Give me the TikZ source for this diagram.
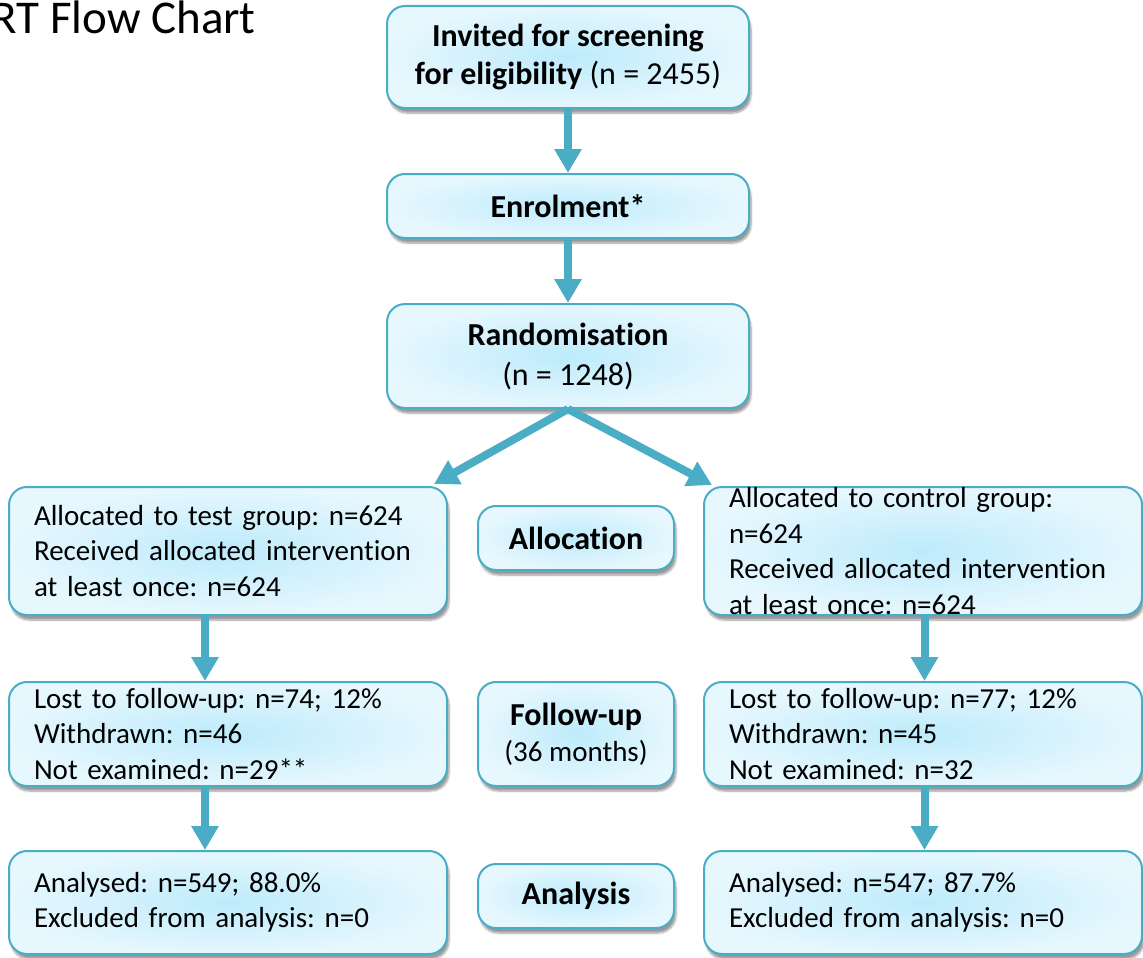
\documentclass[tikz,border=0pt]{standalone}
\usepackage{fontspec}
\setmainfont[Ligatures=CommonOff]{Carlito}
\usetikzlibrary{arrows.meta,shadows.blur}

\definecolor{consortblue}{HTML}{4BACC6}
\definecolor{boxcentre}{HTML}{BDEBFB}
\definecolor{boxedge}{HTML}{E6F7FE}

\tikzset{
  flowbox/.style={draw=consortblue, line width=2pt, rounded corners=18pt,
    inner color=boxcentre, outer color=boxedge,
    blur shadow={shadow xshift=2pt, shadow yshift=-5pt, shadow opacity=40, shadow blur steps=8},
    font=\fontsize{29}{35.5}\selectfont, inner xsep=0pt, inner ysep=0pt, anchor=north west},
  stagebox/.style={flowbox, minimum width=362pt, align=center, font=\fontsize{32}{38}\selectfont},
  groupbox/.style={flowbox, minimum width=438pt, text width=388pt, align=left},
  phasebox/.style={flowbox, minimum width=196pt, align=center, font=\fontsize{32}{36}\selectfont},
  flowarrow/.style={draw=consortblue, line width=8pt, -{Triangle[width=26pt,length=24pt]}}
}

\begin{document}
\frenchspacing
\begin{tikzpicture}[x=1pt,y=-1pt]
\useasboundingbox (0,0) rectangle (1143,958);

\node[anchor=base east, inner sep=0pt, font=\fontsize{47}{56}\selectfont] (title) at (256,34) {RT Flow Chart};

% main column
\node[stagebox, minimum height=102pt] (invited) at (386,5) {\textbf{Invited for screening}\\\textbf{for eligibility} (n = 2455)};
\node[stagebox, minimum height=64pt] (enrol) at (386,173) {\textbf{Enrolment*}};
\node[stagebox, minimum height=104pt] (random) at (386,303) {\textbf{Randomisation}\\[2pt](n = 1248)};

% test group
\node[groupbox, minimum height=128pt] (testalloc) at (8,486) {Allocated to test group: n=624\\Received allocated intervention\\at least once: n=624};
\node[groupbox, minimum height=104pt] (testfollow) at (8,681) {Lost to follow-up: n=74; 12\%\\Withdrawn: n=46\\Not examined: n=29**};
\node[groupbox, minimum height=103pt] (testanalysis) at (8,850) {Analysed: n=549; 88.0\%\\Excluded from analysis: n=0};

% phase labels
\node[phasebox, minimum height=64pt] (allocation) at (477,505) {\textbf{Allocation}};
\node[phasebox, minimum height=104pt] (followup) at (477,681) {\textbf{Follow-up}\\{\fontsize{29}{35}\selectfont(36 months)}};
\node[phasebox, minimum height=64pt] (analysis) at (477,863) {\textbf{Analysis}};

% control group
\node[groupbox, minimum height=128pt] (ctrlalloc) at (703,486) {Allocated to control group:\\n=624\\Received allocated intervention\\at least once: n=624};
\node[groupbox, minimum height=104pt] (ctrlfollow) at (703,681) {Lost to follow-up: n=77; 12\%\\Withdrawn: n=45\\Not examined: n=32};
\node[groupbox, minimum height=103pt] (ctrlanalysis) at (703,850) {Analysed: n=547; 87.7\%\\Excluded from analysis: n=0};

\draw[flowarrow] (invited.south) -- (enrol.north);
\draw[flowarrow] (enrol.south) -- (random.north);
\draw[flowarrow] (random.south) -- ([xshift=-14pt,yshift=2pt]testalloc.north east);
\draw[flowarrow] (random.south) -- ([xshift=9pt,yshift=1pt]ctrlalloc.north west);
\draw[flowarrow] ([xshift=-23pt]testalloc.south) -- ([xshift=-23pt]testfollow.north);
\draw[flowarrow] ([xshift=-23pt]testfollow.south) -- ([xshift=-23pt]testanalysis.north);
\draw[flowarrow] ([xshift=1.5pt]ctrlalloc.south) -- ([xshift=1.5pt]ctrlfollow.north);
\draw[flowarrow] ([xshift=1.5pt]ctrlfollow.south) -- ([xshift=1.5pt]ctrlanalysis.north);
\end{tikzpicture}
\end{document}
